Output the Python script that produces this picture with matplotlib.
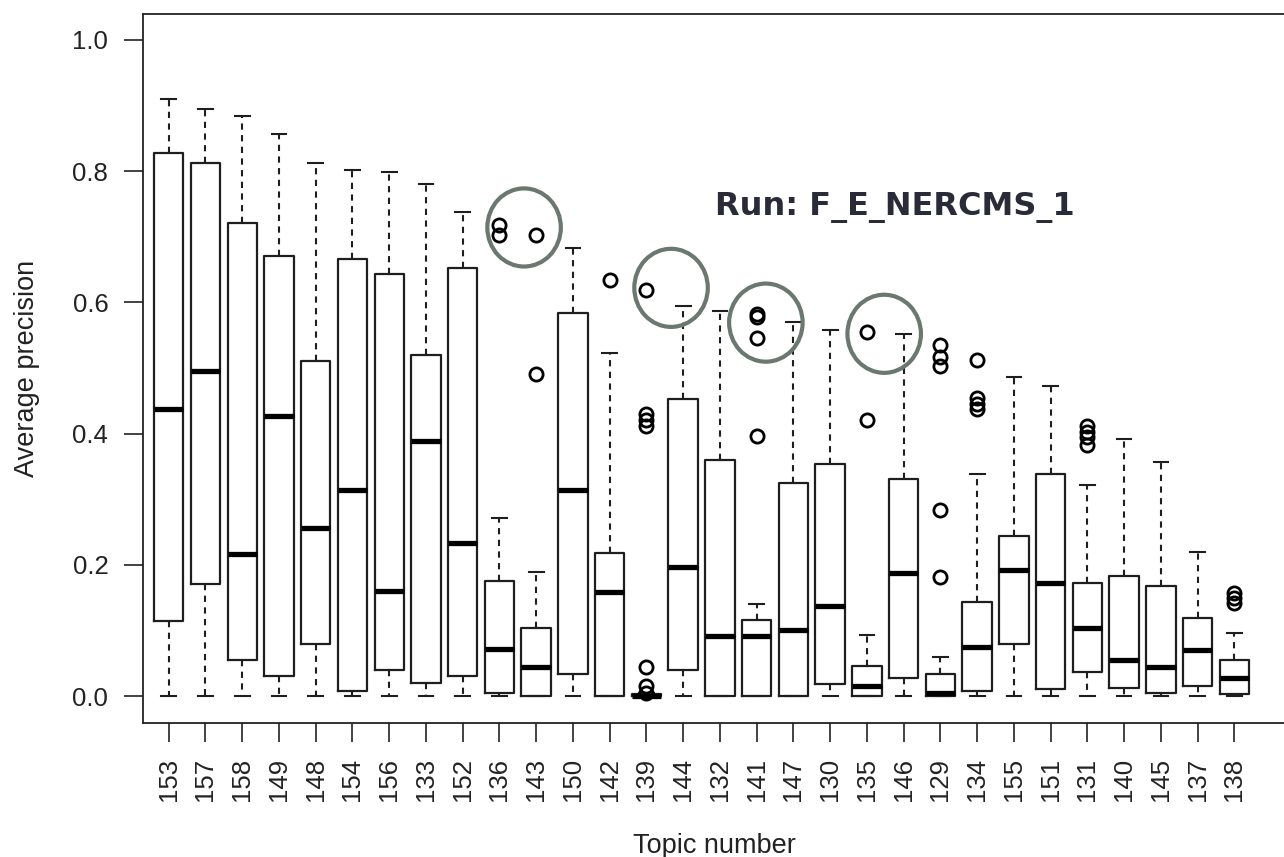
import numpy as np
import matplotlib
matplotlib.use('Agg')
import matplotlib.pyplot as plt
from matplotlib.patches import Ellipse

plt.rcParams['font.family'] = ['Liberation Sans', 'DejaVu Sans']

# topics, ordered as on the x axis
topics = ['153', '157', '158', '149', '148', '154', '156', '133', '152', '136',
          '143', '150', '142', '139', '144', '132', '141', '147', '130', '135',
          '146', '129', '134', '155', '151', '131', '140', '145', '137', '138']

# box statistics
whis_hi = [0.910, 0.894, 0.884, 0.856, 0.812, 0.802, 0.799, 0.780, 0.737, 0.272,
           0.189, 0.683, 0.523, 0.004, 0.595, 0.587, 0.140, 0.570, 0.558, 0.093,
           0.551, 0.059, 0.338, 0.486, 0.473, 0.322, 0.392, 0.356, 0.220, 0.096]
q3 = [0.828, 0.812, 0.721, 0.671, 0.511, 0.666, 0.643, 0.520, 0.652, 0.176,
      0.104, 0.583, 0.218, 0.003, 0.453, 0.359, 0.116, 0.325, 0.353, 0.046,
      0.330, 0.034, 0.143, 0.244, 0.338, 0.172, 0.183, 0.167, 0.119, 0.055]
med = [0.438, 0.495, 0.217, 0.427, 0.256, 0.314, 0.160, 0.389, 0.234, 0.072,
       0.044, 0.314, 0.159, 0.000, 0.197, 0.091, 0.091, 0.101, 0.137, 0.015,
       0.187, 0.004, 0.075, 0.192, 0.172, 0.104, 0.055, 0.044, 0.070, 0.028]
q1 = [0.114, 0.171, 0.055, 0.030, 0.080, 0.007, 0.040, 0.020, 0.030, 0.004,
      0.000, 0.033, 0.000, 0.000, 0.040, 0.000, 0.000, 0.000, 0.018, 0.000,
      0.028, 0.000, 0.008, 0.080, 0.011, 0.036, 0.013, 0.004, 0.015, 0.003]
whis_lo = [0.0] * 30

# outliers per topic
outliers = {
    '136': [0.717, 0.703],
    '143': [0.703, 0.490],
    '142': [0.634],
    '139': [0.619, 0.430, 0.420, 0.411, 0.044, 0.016, 0.004],
    '141': [0.582, 0.577, 0.546, 0.397],
    '135': [0.555, 0.421],
    '129': [0.535, 0.517, 0.503, 0.284, 0.182],
    '134': [0.512, 0.454, 0.445, 0.437],
    '131': [0.411, 0.403, 0.395, 0.383],
    '138': [0.157, 0.149, 0.142],
}

# highlight rings (x in box-position units, y in precision)
ring_x = [10.67, 14.67, 17.25, 20.47]
ring_y = [0.714, 0.622, 0.569, 0.552]

stats = []
for i, t in enumerate(topics):
    stats.append(dict(label=t, whislo=whis_lo[i], q1=q1[i], med=med[i],
                      q3=q3[i], whishi=whis_hi[i],
                      fliers=np.array(outliers.get(t, []))))

fig = plt.figure(figsize=(12.84, 8.57), dpi=100)
ax = fig.add_axes([143/1284, (857-723)/857, 1 - 143/1284, (723-13.5)/857])

ax.bxp(stats, positions=range(1, 31), widths=0.8, capwidths=0.4,
       boxprops=dict(color='#1e1e1e', linewidth=1.6),
       whiskerprops=dict(color='#1e1e1e', linewidth=1.5, linestyle=(0, (3, 2.6))),
       capprops=dict(color='#1e1e1e', linewidth=1.5),
       medianprops=dict(color='black', linewidth=3.8, solid_capstyle='butt'),
       flierprops=dict(marker='o', markerfacecolor='none', markeredgecolor='black',
                       markersize=9.5, markeredgewidth=2.0))

for x, y in zip(ring_x, ring_y):
    ax.add_patch(Ellipse((x, y), 2.0, 0.119, fill=False, edgecolor='#6a786f',
                         linewidth=3.0, zorder=5))

ax.set_xlim(0.30, 31.35)
ax.set_ylim(-0.041, 1.040)
ax.set_yticks([0.0, 0.2, 0.4, 0.6, 0.8, 1.0])
ax.set_yticklabels(['0.0', '0.2', '0.4', '0.6', '0.8', '1.0'])
ax.set_xticks(range(1, 31))
ax.set_xticklabels(topics, rotation=90)
ax.tick_params(axis='both', length=14, width=1.2, pad=11, labelsize=18.5,
               labelcolor='#222222', color='#222222')

ax.spines['right'].set_visible(False)
for s in ['left', 'top', 'bottom']:
    ax.spines[s].set_linewidth(1.3)
    ax.spines[s].set_color('#222222')

ax.set_ylabel('Average precision', fontsize=19.5, color='#222222')
ax.yaxis.set_label_coords(-0.090, 0.5)
ax.set_xlabel('Topic number', fontsize=19.5, color='#222222')
ax.xaxis.set_label_coords(0.501, -0.155)

fig.text(715/1284, 1 - 215/857, 'Run: F_E_NERCMS_1', family='DejaVu Sans',
         fontweight='bold', fontsize=23, color='#2a2b38', va='baseline', ha='left')

plt.savefig('out.png', dpi=100)
